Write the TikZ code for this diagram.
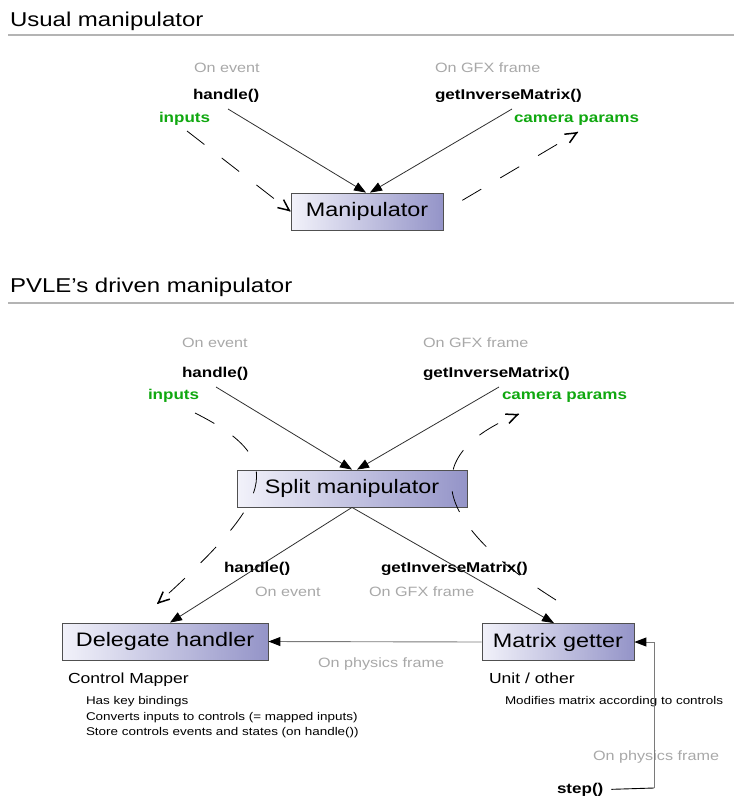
\documentclass[tikz,border=0pt]{standalone}
\usepackage{fontspec}
\setmainfont{Liberation Sans}[FakeStretch=1.2]
\usetikzlibrary{arrows.meta,calc}
\definecolor{lblgray}{HTML}{A8A8A8}
\definecolor{grn}{HTML}{10A810}
\definecolor{boxL}{HTML}{F2F2FA}
\definecolor{boxR}{HTML}{9494C8}
\definecolor{boxB}{HTML}{505050}
\definecolor{lineC}{HTML}{303030}
\definecolor{ruleC}{HTML}{B4B4B4}
\definecolor{midgray}{HTML}{7A7A7A}
\tikzset{
  txt/.style={anchor=base west, inner sep=0pt, outer sep=0pt},
  ttl/.style={txt, font=\fontsize{20}{24}\selectfont},
  glbl/.style={txt, text=lblgray, font=\fontsize{13.5}{16}\selectfont},
  meth/.style={txt, text=black, font=\bfseries\fontsize{14.2}{17}\selectfont},
  grnlbl/.style={meth, text=grn},
  sub/.style={txt, font=\fontsize{14.6}{17}\selectfont},
  small/.style={txt, font=\fontsize{11.2}{13}\selectfont},
  box/.style={draw=boxB, line width=0.8pt, left color=boxL, right color=boxR,
    minimum height=37pt, inner sep=0pt, font=\fontsize{19.5}{23}\selectfont},
  rulel/.style={draw=ruleC, line width=1.6pt},
  solidarr/.style={draw=lineC, line width=0.8pt, -{Triangle[length=12pt,width=9pt,color=black]}},
  dashln/.style={draw=black, line width=0.8pt, dash pattern=on 22pt off 22pt},
  barbtip/.style={draw=black, line width=1.5pt, solid, line cap=round, line join=round,
    -{Straight Barb[length=11pt,width=10pt]}},
  grayarr/.style={draw=midgray, line width=0.9pt, -{Triangle[length=12pt,width=9pt,color=black]}},
}
\begin{document}
\begin{tikzpicture}[x=1pt,y=-1pt]
\useasboundingbox (0,0) rectangle (736,805);

% ---------- Usual manipulator ----------
\node[ttl] (t1) at (10,27) {Usual manipulator};
\draw[rulel] (8,35) -- (734,35);

\node[glbl] (ev1) at (194,73) {On event};
\node[meth] (h1) at (193,100) {handle()};
\node[grnlbl] (in1) at (159,123) {inputs};
\node[glbl] (gfx1) at (435,73) {On GFX frame};
\node[meth] (gim1) at (435,100) {getInverseMatrix()};
\node[grnlbl] (cam1) at (514,123) {camera params};

\node[box, minimum width=152pt] (man) at (367,211.5) {Manipulator};

\coordinate (h1s) at (228,109);
\coordinate (g1s) at (512,109);
\coordinate (in1s) at (187,131);
\coordinate (cam1t) at (578,132);

\draw[solidarr] (h1s) -- ([xshift=-1pt]man.north);
\draw[solidarr] (g1s) -- ([xshift=3pt]man.north);
\draw[dashln] (in1s) -- (man.west);
\draw[barbtip] ($(man.west)!1pt!(in1s)$) -- (man.west);
\draw[dashln, dash phase=22pt] (man.east) -- (cam1t);
\draw[barbtip] ($(cam1t)!1pt!(man.east)$) -- (cam1t);

% ---------- PVLE's driven manipulator ----------
\node[ttl] (t2) at (10,292) {PVLE’s driven manipulator};
\draw[rulel] (8,303) -- (734,303);

\node[glbl] (ev2) at (182,347) {On event};
\node[meth] (h2) at (182,377) {handle()};
\node[grnlbl] (in2) at (148,399) {inputs};
\node[glbl] (gfx2) at (423,347) {On GFX frame};
\node[meth] (gim2) at (423,377) {getInverseMatrix()};
\node[grnlbl] (cam2) at (502,399) {camera params};

\node[box, minimum width=230pt] (split) at (352,488.5) {Split manipulator};

\coordinate (h2s) at (216,387);
\coordinate (g2s) at (499,387);
\draw[solidarr] (h2s) -- (split.north);
\draw[solidarr] (g2s) -- ([xshift=5pt]split.north);

\node[box, minimum width=206pt] (del) at (165,641.5) {Delegate handler};
\node[box, minimum width=152pt] (mg) at (558,642) {Matrix getter};

\node[meth] (h3) at (224,572) {handle()};
\node[glbl] (ev3) at (255,596) {On event};
\node[meth] (gim3) at (381,572) {getInverseMatrix()};
\node[glbl] (gfx3) at (369,596) {On GFX frame};

\draw[solidarr] (split.south) -- ([xshift=5pt]del.north);
\draw[solidarr] (split.south) -- ([xshift=-4pt]mg.north);

% dashed curves
\coordinate (in2s) at (195,413);
\coordinate (delt) at (157,604);
\coordinate (mgs) at (556,600);
\coordinate (cam2t) at (519,414);
\draw[dashln] (in2s) .. controls (291,461) and (272,500) .. (delt);
\draw[barbtip] ($(delt)!1pt!(272,500)$) -- (delt);
\draw[dashln] (mgs) .. controls (435,524) and (414,456) .. (cam2t);
\draw[barbtip] ($(cam2t)!1pt!(414,456)$) -- (cam2t);

% physics frame
\draw[grayarr] (mg.west) -- (del.east);
\node[glbl] (phys1) at (318,667) {On physics frame};

\node[sub] (cm) at (68,683) {Control Mapper};
\node[small] (k1) at (86,704) {Has key bindings};
\node[small] (k2) at (86,720) {Converts inputs to controls (= mapped inputs)};
\node[small] (k3) at (86,735) {Store controls events and states (on handle())};

\node[sub] (uo) at (489,683) {Unit / other};
\node[small] (mod) at (505,704) {Modifies matrix according to controls};

\node[glbl] (phys2) at (593,760) {On physics frame};
\node[meth] (step) at (557,793) {step()};
\coordinate (stepc) at (654,788);
\draw[draw=black, line width=0.9pt] ([xshift=8pt]step.east) -- (stepc);
\draw[grayarr] (stepc) |- (mg.east);
\end{tikzpicture}
\end{document}
